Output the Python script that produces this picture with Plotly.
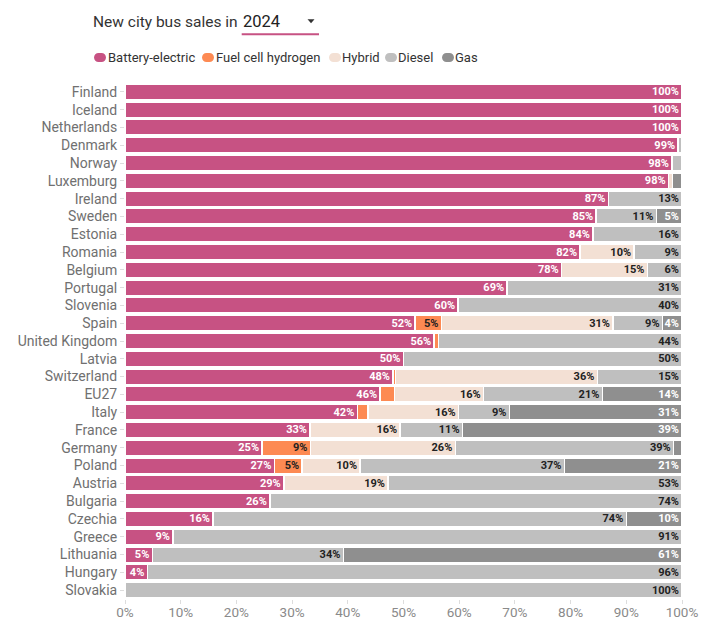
import math
import plotly.graph_objects as go

countries = ["Finland", "Iceland", "Netherlands", "Denmark", "Norway", "Luxemburg",
             "Ireland", "Sweden", "Estonia", "Romania", "Belgium", "Portugal",
             "Slovenia", "Spain", "United Kingdom", "Latvia", "Switzerland", "EU27",
             "Italy", "France", "Germany", "Poland", "Austria", "Bulgaria",
             "Czechia", "Greece", "Lithuania", "Hungary", "Slovakia"]

battery_electric = [100, 100, 100, 99.3, 98.2, 97.6, 86.8, 84.6, 84.0, 81.7, 78.4, 68.6,
                    59.8, 52.1, 55.5, 50.0, 48.1, 45.8, 41.7, 33.2, 24.6, 26.8, 28.5, 26.0,
                    15.8, 8.6, 4.9, 4.0, 0]
fuel_cell_hydrogen = [0, 0, 0, 0, 0, 0, 0, 0, 0, 0, 0, 0,
                      0, 4.7, 0.8, 0, 0.5, 2.6, 1.9, 0, 8.7, 5.0, 0, 0,
                      0, 0, 0, 0, 0]
hybrid = [0, 0, 0, 0, 0, 0.7, 0, 0, 0, 9.7, 15.4, 0,
          0, 30.8, 0, 0, 36.2, 16.0, 16.3, 16.2, 26.0, 10.4, 18.7, 0,
          0, 0, 0, 0, 0]
diesel = [0, 0, 0, 0.7, 1.8, 0, 13.2, 10.8, 16.0, 8.6, 6.2, 31.4,
          40.2, 8.9, 43.7, 50.0, 15.2, 21.3, 9.1, 11.2, 39.2, 36.7, 52.8, 74.0,
          74.2, 91.4, 34.3, 96.0, 100]
gas = [0, 0, 0, 0, 0, 1.7, 0, 4.6, 0, 0, 0, 0,
       0, 3.5, 0, 0, 0, 14.3, 31.0, 39.4, 1.5, 21.1, 0, 0,
       10.0, 0, 60.8, 0, 0]

series_names = ["Battery-electric", "Fuel cell hydrogen", "Hybrid", "Diesel", "Gas"]
series_values = [battery_electric, fuel_cell_hydrogen, hybrid, diesel, gas]
series_colors = ["#c75283", "#fd8a53", "#f3e0d4", "#bfbfbf", "#8f8f8f"]
label_colors = ["#ffffff", "#222222", "#222222", "#222222", "#ffffff"]

x_ticks = list(range(0, 101, 10))
x_ticktext = [f"{v}%" for v in x_ticks]

title_text = "New city bus sales in"
year_text = "2024"

W, H = 706, 620
L, R, T, B = 125, 24, 83, 21
PW, PH = W - L - R, H - T - B


def px(x):
    return (x - L) / PW


def py(y):
    return 1 - (y - T) / PH


def fmt(v):
    return f"{int(math.floor(v + 0.5))}%" if v >= 3.5 else ""


fig = go.Figure()
for name, vals, col, lcol in zip(series_names, series_values, series_colors, label_colors):
    fig.add_trace(go.Bar(
        y=countries, x=vals, name=name, orientation="h",
        marker=dict(color=col, line=dict(color="white", width=1.5)),
        text=[fmt(v) for v in vals],
        textposition="inside", insidetextanchor="end", textangle=0,
        constraintext="none",
        textfont=dict(family="Roboto", size=11, color=lcol, weight="bold"),
        hoverinfo="skip",
    ))

shapes = []
annotations = []

# title
annotations.append(dict(text=title_text, xref="paper", yref="paper", x=px(91), y=py(21.5),
                        xanchor="left", yanchor="middle", showarrow=False,
                        font=dict(family="Roboto", size=15.5, color="#333333")))
annotations.append(dict(text=year_text, xref="paper", yref="paper", x=px(240.5), y=py(21.5),
                        xanchor="left", yanchor="middle", showarrow=False,
                        font=dict(family="Roboto", size=16.5, color="#222222")))
shapes.append(dict(type="line", xref="paper", yref="paper", x0=px(241.7), x1=px(319),
                   y0=py(34.3), y1=py(34.3), line=dict(color="#c75283", width=2)))
shapes.append(dict(type="path", xref="paper", yref="paper",
                   path=f"M {px(307.5)},{py(19.2)} L {px(314.5)},{py(19.2)} L {px(311)},{py(23.2)} Z",
                   fillcolor="#333333", line=dict(width=0)))


def pill(x0, yc, w=12, h=9):
    r = h / 2
    k = 0.5523 * r
    x1 = x0 + w
    yt, yb = yc - r, yc + r
    pts = [
        f"M {px(x0 + r)},{py(yt)}",
        f"L {px(x1 - r)},{py(yt)}",
        f"C {px(x1 - r + k)},{py(yt)} {px(x1)},{py(yc - k)} {px(x1)},{py(yc)}",
        f"C {px(x1)},{py(yc + k)} {px(x1 - r + k)},{py(yb)} {px(x1 - r)},{py(yb)}",
        f"L {px(x0 + r)},{py(yb)}",
        f"C {px(x0 + r - k)},{py(yb)} {px(x0)},{py(yc + k)} {px(x0)},{py(yc)}",
        f"C {px(x0)},{py(yc - k)} {px(x0 + r - k)},{py(yt)} {px(x0 + r)},{py(yt)} Z",
    ]
    return " ".join(pts)


legend_marker_x = [94, 202, 329, 385, 442]
legend_text_x = [106, 214, 340, 396, 453]
legend_y = 57.5
for name, col, mx, tx in zip(series_names, series_colors, legend_marker_x, legend_text_x):
    shapes.append(dict(type="path", xref="paper", yref="paper", path=pill(mx, legend_y),
                       fillcolor=col, line=dict(width=0)))
    annotations.append(dict(text=name, xref="paper", yref="paper", x=px(tx), y=py(legend_y),
                            xanchor="left", yanchor="middle", showarrow=False,
                            font=dict(family="Roboto", size=13, color="#333333")))

fig.update_layout(
    width=W, height=H,
    margin=dict(l=L, r=R, t=T, b=B),
    barmode="stack", bargap=0.13,
    plot_bgcolor="white", paper_bgcolor="white",
    showlegend=False,
    shapes=shapes, annotations=annotations,
    xaxis=dict(range=[0, 100], tickvals=x_ticks, ticktext=x_ticktext,
               ticks="outside", ticklen=4, tickcolor="#dddddd",
               ticklabelstandoff=-3,
               showgrid=False, zeroline=False, showline=False, automargin=False,
               tickfont=dict(family="Roboto", size=13.5, color="#8a8a8a")),
    yaxis=dict(categoryorder="array", categoryarray=countries, autorange="reversed",
               ticks="outside", ticklen=4, tickcolor="#dddddd",
               showgrid=False, zeroline=False, showline=False, automargin=False,
               tickfont=dict(family="Roboto", size=14, color="#707070")),
)

fig.write_html("out.html")
